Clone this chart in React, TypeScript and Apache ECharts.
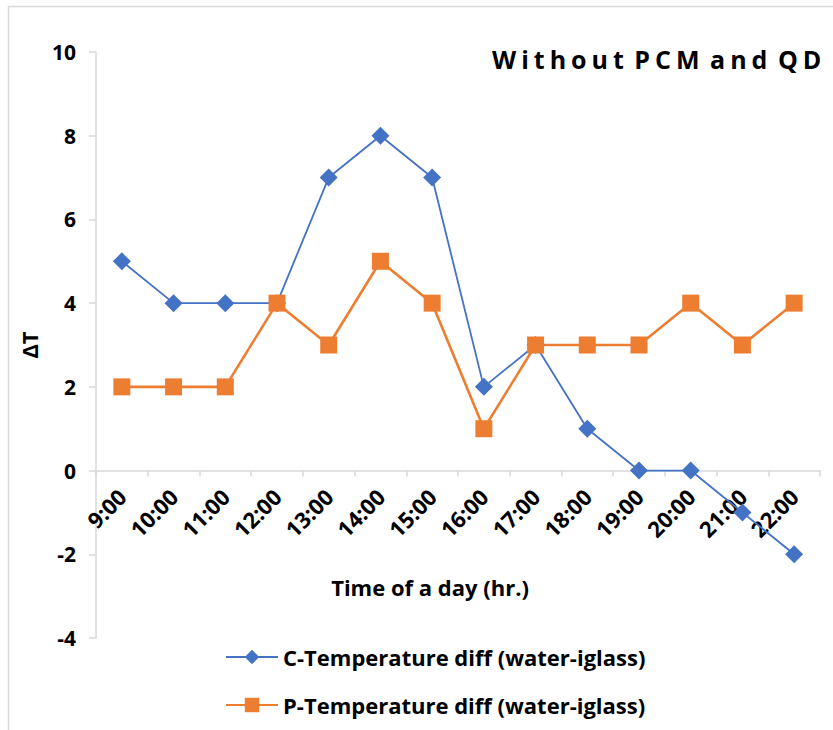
import React, { useEffect, useRef } from "react";
import * as echarts from "echarts";

// Hours of the day (category axis)
const hours = [
  "9:00", "10:00", "11:00", "12:00", "13:00", "14:00", "15:00",
  "16:00", "17:00", "18:00", "19:00", "20:00", "21:00", "22:00",
];

// Temperature differences (water - iglass)
const cSeries = [5, 4, 4, 4, 7, 8, 7, 2, 3, 1, 0, 0, -1, -2];
const pSeries = [2, 2, 2, 4, 3, 5, 4, 1, 3, 3, 3, 4, 3, 4];

// Value axis range
const yMin = -4;
const yMax = 10;
const yStep = 2;

const cName = "C-Temperature diff (water-iglass)";
const pName = "P-Temperature diff (water-iglass)";
const titleText = "Without PCM and QD";
const xTitle = "Time of a day (hr.)";

const FONT = "'Open Sans', 'Noto Sans', sans-serif";
const AXIS_GREY = "#D9D9D9";
const BLUE = "#4472C4";
const ORANGE = "#ED7D31";

const GRID_TOP = 52;
const GRID_BOTTOM = 92;
const HEIGHT = 730;

export default function App() {
  const ref = useRef<HTMLDivElement>(null);

  useEffect(() => {
    if (!ref.current) return;
    const chart = echarts.init(ref.current, undefined, { renderer: "svg" });

    // Lift the category axis from the grid bottom up to the y = 0 line
    const plotH = HEIGHT - GRID_TOP - GRID_BOTTOM;
    const zeroLift = (plotH * (0 - yMin)) / (yMax - yMin);

    chart.setOption({
      animation: false,
      backgroundColor: "#ffffff",
      textStyle: { fontFamily: FONT },
      grid: { left: 96, right: 13, top: GRID_TOP, bottom: GRID_BOTTOM, containLabel: false },
      xAxis: {
        type: "category",
        data: hours,
        boundaryGap: true,
        offset: -zeroLift,
        axisLine: { onZero: false, lineStyle: { color: AXIS_GREY, width: 1.5 } },
        axisTick: { show: true, length: 6, lineStyle: { color: AXIS_GREY, width: 1.5 } },
        axisLabel: {
          rotate: 45,
          margin: 22,
          interval: 0,
          color: "#000",
          fontWeight: "bold",
          fontSize: 22,
          fontFamily: FONT,
        },
        splitLine: { show: false },
      },
      yAxis: {
        type: "value",
        min: yMin,
        max: yMax,
        interval: yStep,
        name: "ΔT",
        nameLocation: "middle",
        nameGap: 56,
        nameRotate: 90,
        nameTextStyle: { color: "#000", fontWeight: "bold", fontSize: 22, fontFamily: FONT },
        axisLine: { show: true, lineStyle: { color: AXIS_GREY, width: 1.5 } },
        axisTick: { show: true, length: 7, lineStyle: { color: AXIS_GREY, width: 1.5 } },
        axisLabel: { color: "#000", fontWeight: "bold", fontSize: 21, margin: 20, fontFamily: FONT },
        splitLine: { show: false },
      },
      legend: {
        orient: "vertical",
        left: 225,
        top: 646,
        padding: 0,
        itemGap: 26,
        itemWidth: 52,
        itemHeight: 18,
        textStyle: { color: "#000", fontWeight: "bold", fontSize: 22, fontFamily: FONT },
        data: [cName, pName],
      },
      graphic: [
        {
          type: "rect",
          silent: true,
          shape: { x: 8.5, y: 6.5, width: 900, height: 900 },
          style: { fill: "none", stroke: AXIS_GREY, lineWidth: 1.5 },
          z: -10,
        },
        {
          type: "text",
          x: 492,
          y: 59,
          style: {
            text: titleText,
            fill: "#000",
            fontSize: 25,
            fontWeight: "bold",
            fontFamily: FONT,
            textAlign: "left",
            textVerticalAlign: "middle",
          },
        },
        {
          type: "text",
          x: 430,
          y: 587,
          style: {
            text: xTitle,
            fill: "#000",
            fontSize: 22,
            fontWeight: "bold",
            fontFamily: FONT,
            textAlign: "center",
            textVerticalAlign: "middle",
          },
        },
      ],
      series: [
        {
          name: cName,
          type: "line",
          data: cSeries,
          symbol: "diamond",
          symbolSize: 18,
          lineStyle: { color: BLUE, width: 1.8 },
          itemStyle: { color: BLUE },
        },
        {
          name: pName,
          type: "line",
          data: pSeries,
          symbol: "rect",
          symbolSize: 17,
          lineStyle: { color: ORANGE, width: 2.6 },
          itemStyle: { color: ORANGE },
        },
      ],
    });

    // Spread the title's letters apart while keeping word gaps tight
    ref.current.querySelectorAll("text").forEach((t) => {
      if (t.textContent === titleText) {
        const s = (t as SVGTextElement).style;
        s.letterSpacing = "5px";
        s.wordSpacing = "-6px";
      }
    });

    return () => chart.dispose();
  }, []);

  return (
    <div
      ref={ref}
      style={{ position: "absolute", left: 0, top: 0, width: 833, height: 730 }}
    />
  );
}
